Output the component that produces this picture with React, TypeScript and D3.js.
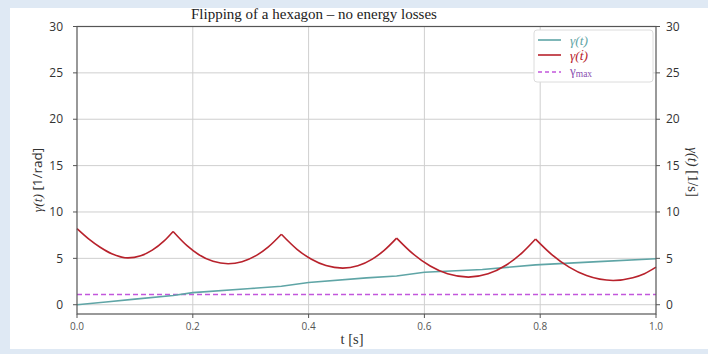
import * as d3 from "d3";
import React from "react";

// gamma(t) [1/rad] — slowly rising curve
const angleT = [0, 0.05, 0.1, 0.166, 0.2, 0.3, 0.353, 0.4, 0.5, 0.552, 0.6, 0.7, 0.792, 0.9, 1.0];
const angleV = [0, 0.3, 0.6, 1.0, 1.3, 1.75, 2.0, 2.4, 2.9, 3.1, 3.5, 3.8, 4.3, 4.65, 4.95];

// gamma-dot(t) [1/s] — scallops between impacts
const rateT = [
  0, 0.02, 0.04, 0.06, 0.088, 0.11, 0.13, 0.15, 0.166,
  0.19, 0.21, 0.235, 0.261, 0.285, 0.31, 0.33, 0.353,
  0.38, 0.405, 0.43, 0.459, 0.485, 0.51, 0.53, 0.552,
  0.58, 0.61, 0.64, 0.676, 0.71, 0.74, 0.77, 0.792,
  0.82, 0.85, 0.88, 0.926, 0.96, 0.98, 1.0,
];
const rateV = [
  8.2, 7.1, 6.2, 5.5, 5.05, 5.28, 5.88, 6.85, 7.9,
  6.37, 5.42, 4.68, 4.42, 4.64, 5.32, 6.21, 7.6,
  5.98, 4.9, 4.22, 3.95, 4.2, 4.92, 5.83, 7.18,
  5.5, 4.17, 3.33, 2.98, 3.33, 4.23, 5.67, 7.08,
  5.41, 4.05, 3.14, 2.62, 2.91, 3.34, 4.05,
];
const impactTimes = [0.166, 0.353, 0.552, 0.792];

const gammaMax = 1.1;

const xTicks = [0, 0.2, 0.4, 0.6, 0.8, 1.0];
const yTicks = [0, 5, 10, 15, 20, 25, 30];

const W = 708;
const H = 354;
const m = { l: 77, r: 656, t: 26.5, b: 314 };

const teal = "#5fa5a6";
const red = "#b8222c";
const purple = "#c257dc";

const App: React.FC = () => {
  const x = d3.scaleLinear([0, 1], [m.l, m.r]);
  const y = d3.scaleLinear([-1, 30], [m.b, m.t]);

  const angleLine = d3
    .line<number>()
    .x((_, i) => x(angleT[i]))
    .y((d) => y(d));

  // split the rate curve at each impact so the cusps stay sharp
  const pts = rateT.map((t, i) => [t, rateV[i]] as [number, number]);
  const segments: [number, number][][] = [];
  let cur: [number, number][] = [];
  pts.forEach((p) => {
    cur.push(p);
    if (impactTimes.includes(p[0])) {
      segments.push(cur);
      cur = [p];
    }
  });
  if (cur.length > 1) segments.push(cur);

  const rateLine = d3
    .line<[number, number]>()
    .x((d) => x(d[0]))
    .y((d) => y(d[1]))
    .curve(d3.curveMonotoneX);

  const sans = "'Open Sans', 'Noto Sans', sans-serif";
  const serif = "'Liberation Serif', 'DejaVu Serif', serif";

  return (
    <div style={{ position: "fixed", left: 0, top: 0 }}>
      <svg width={W} height={H} style={{ display: "block" }}>
        <rect x={0} y={0} width={W} height={H} fill="#dfe9f4" />
        <rect x={10} y={8} width={W - 10} height={341} fill="#ffffff" />

        {/* grid */}
        {xTicks.slice(1, -1).map((t) => (
          <line key={"gx" + t} x1={x(t)} x2={x(t)} y1={m.t} y2={m.b} stroke="#cfcfcf" strokeWidth={1} />
        ))}
        {yTicks.slice(0, -1).map((v) => (
          <line key={"gy" + v} x1={m.l} x2={m.r} y1={y(v)} y2={y(v)} stroke="#cfcfcf" strokeWidth={1} />
        ))}

        {/* data */}
        <line x1={x(0)} x2={x(1)} y1={y(gammaMax)} y2={y(gammaMax)} stroke={purple} strokeWidth={1.5} strokeDasharray="5,3" />
        <path d={angleLine(angleV) || ""} fill="none" stroke={teal} strokeWidth={1.6} />
        {segments.map((s, i) => (
          <path key={"seg" + i} d={rateLine(s) || ""} fill="none" stroke={red} strokeWidth={1.6} />
        ))}

        {/* frame */}
        <rect x={m.l} y={m.t} width={m.r - m.l} height={m.b - m.t} fill="none" stroke="#555" strokeWidth={1.2} />

        {/* left axis */}
        {yTicks.map((v) => (
          <g key={"yl" + v}>
            <line x1={m.l - 4} x2={m.l} y1={y(v)} y2={y(v)} stroke="#555" />
            <text x={m.l - 14} y={y(v)} dy="0.35em" textAnchor="end" fontFamily={sans} fontSize={12} fill="#333">
              {v}
            </text>
          </g>
        ))}
        {/* right axis */}
        {yTicks.map((v) => (
          <g key={"yr" + v}>
            <line x1={m.r} x2={m.r + 4} y1={y(v)} y2={y(v)} stroke="#555" />
            <text x={m.r + 10} y={y(v)} dy="0.35em" textAnchor="start" fontFamily={sans} fontSize={12} fill="#333">
              {v}
            </text>
          </g>
        ))}
        {/* bottom axis */}
        {xTicks.map((t) => (
          <g key={"xt" + t}>
            <line x1={x(t)} x2={x(t)} y1={m.b} y2={m.b + 4} stroke="#555" />
            <text x={x(t)} y={m.b + 16} textAnchor="middle" fontFamily={sans} fontSize={10} fill="#555">
              {t.toFixed(1)}
            </text>
          </g>
        ))}

        {/* titles */}
        <text x={314} y={19} textAnchor="middle" fontFamily={serif} fontSize={15} fill="#222">
          Flipping of a hexagon – no energy losses
        </text>
        <text x={352} y={344} textAnchor="middle" fontFamily={serif} fontSize={14.5} fill="#333">
          t [s]
        </text>
        <text transform="translate(42,180) rotate(-90)" textAnchor="middle" fontSize={13.5} fill="#333">
          <tspan fontFamily={serif} fontStyle="italic">γ(t)</tspan>
          <tspan fontFamily={sans}> [1/rad]</tspan>
        </text>
        <text transform="translate(688,172) rotate(90)" textAnchor="middle" fontFamily={serif} fontSize={14.5} fill="#333">
          <tspan fontStyle="italic">γ(t)</tspan>
          <tspan> [1/s]</tspan>
        </text>

        {/* legend */}
        <g>
          <rect x={534} y={30} width={119} height={52} rx={3} fill="#fff" stroke="#dcdcdc" />
          <line x1={538} x2={561} y1={40} y2={40} stroke={teal} strokeWidth={1.6} />
          <text x={570} y={44.5} fontFamily={serif} fontStyle="italic" fontSize={13.5} fill={teal}>
            γ(t)
          </text>
          <line x1={538} x2={561} y1={55} y2={55} stroke={red} strokeWidth={1.6} />
          <text x={570} y={59.5} fontFamily={serif} fontStyle="italic" fontSize={13.5} fill={red}>
            γ(ṫ)
          </text>
          <line x1={538} x2={561} y1={72} y2={72} stroke={purple} strokeWidth={1.5} strokeDasharray="4,3" />
          <text x={570} y={75} fontFamily={serif} fontSize={13} fill="#8a4fb0">
            γ<tspan fontSize={9.5} dy={2}>max</tspan>
          </text>
        </g>
      </svg>
    </div>
  );
};

export default App;
